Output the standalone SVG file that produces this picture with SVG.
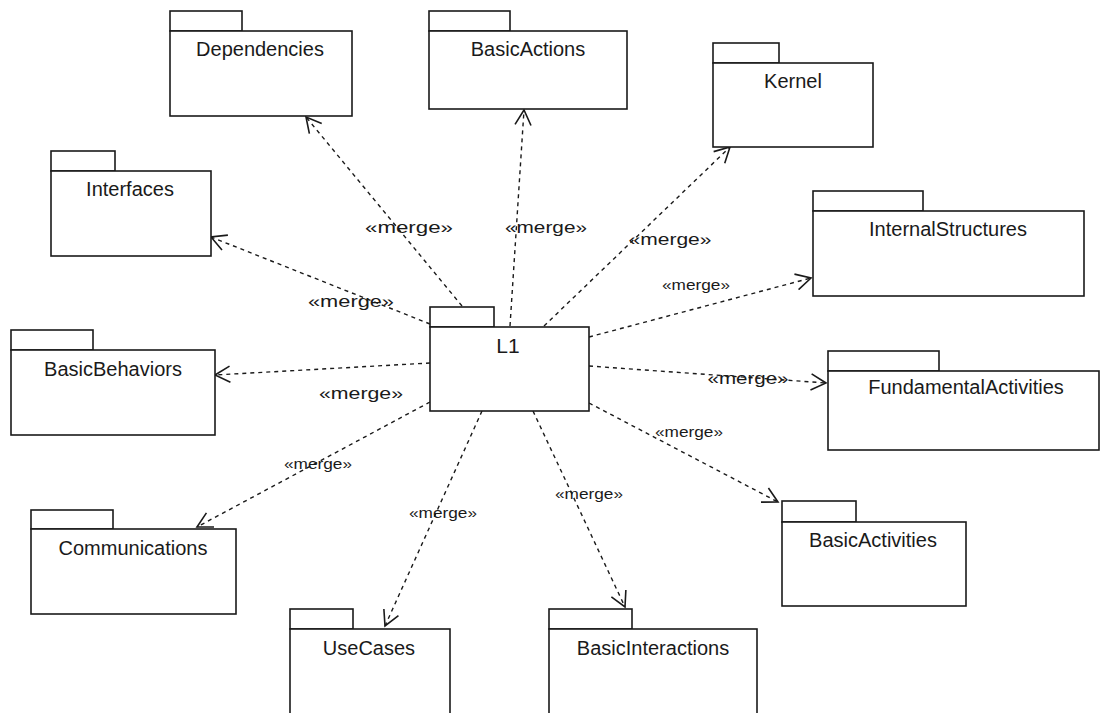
<svg xmlns="http://www.w3.org/2000/svg" width="1101" height="713" viewBox="0 0 1101 713">
<style>
.pk{fill:#fff;stroke:#1a1a1a;stroke-width:1.6}
.nm{font-family:"Liberation Sans",Arial,sans-serif;font-size:20px;fill:#1a1a1a;text-anchor:middle}
.cn{fill:none;stroke:#1a1a1a;stroke-width:1.4;stroke-dasharray:4 4;marker-end:url(#arr)}
.lg{font-family:"Liberation Sans",Arial,sans-serif;font-size:17px;fill:#1a1a1a;text-anchor:middle}
.sm{font-family:"Liberation Sans",Arial,sans-serif;font-size:14px;fill:#1a1a1a;text-anchor:middle}
</style>
<defs>
<marker id="arr" markerUnits="userSpaceOnUse" viewBox="0 0 18 18" markerWidth="18" markerHeight="18" refX="16" refY="9" orient="auto">
<path d="M1,1 L16,9 L1,17" fill="none" stroke="#1a1a1a" stroke-width="1.6"/>
</marker>
</defs>
<rect width="1101" height="713" fill="#fff"/>

<g id="connectors">
<line class="cn" x1="462" y1="306" x2="306" y2="117"/>
<line class="cn" x1="510" y1="326" x2="524" y2="110"/>
<line class="cn" x1="544" y1="326" x2="730" y2="147"/>
<line class="cn" x1="589" y1="337" x2="811" y2="278"/>
<line class="cn" x1="589" y1="366" x2="826" y2="383"/>
<line class="cn" x1="589" y1="403" x2="778" y2="502"/>
<line class="cn" x1="533" y1="411" x2="625" y2="607"/>
<line class="cn" x1="482" y1="411" x2="385" y2="626"/>
<line class="cn" x1="430" y1="402" x2="197" y2="527"/>
<line class="cn" x1="430" y1="363" x2="215" y2="375"/>
<line class="cn" x1="430" y1="324" x2="211" y2="237"/>
</g>

<g id="labels">
<text class="lg" x="409" y="233" textLength="88" lengthAdjust="spacingAndGlyphs">«merge»</text>
<text class="lg" x="546" y="233" textLength="82" lengthAdjust="spacingAndGlyphs">«merge»</text>
<text class="lg" x="670" y="245" textLength="83" lengthAdjust="spacingAndGlyphs">«merge»</text>
<text class="lg" x="351" y="307" textLength="86" lengthAdjust="spacingAndGlyphs">«merge»</text>
<text class="lg" x="361" y="399" textLength="84" lengthAdjust="spacingAndGlyphs">«merge»</text>
<text class="lg" x="748" y="384" textLength="81" lengthAdjust="spacingAndGlyphs">«merge»</text>
<text class="sm" x="696" y="290" textLength="68" lengthAdjust="spacingAndGlyphs">«merge»</text>
<text class="sm" x="689" y="437" textLength="68" lengthAdjust="spacingAndGlyphs">«merge»</text>
<text class="sm" x="318" y="469" textLength="68" lengthAdjust="spacingAndGlyphs">«merge»</text>
<text class="sm" x="443" y="518" textLength="68" lengthAdjust="spacingAndGlyphs">«merge»</text>
<text class="sm" x="589" y="499" textLength="68" lengthAdjust="spacingAndGlyphs">«merge»</text>
</g>

<g id="L1">
<rect class="pk" x="430" y="307" width="64" height="20"/>
<rect class="pk" x="430" y="327" width="159" height="84"/>
<text class="nm" x="508" y="353" style="font-size:21px">L1</text>
</g>
<g id="Dependencies">
<rect class="pk" x="170" y="11" width="72" height="20"/>
<rect class="pk" x="170" y="31" width="182" height="85"/>
<text class="nm" x="260" y="56">Dependencies</text>
</g>
<g id="BasicActions">
<rect class="pk" x="429" y="11" width="81" height="20"/>
<rect class="pk" x="429" y="31" width="198" height="78"/>
<text class="nm" x="528" y="56">BasicActions</text>
</g>
<g id="Kernel">
<rect class="pk" x="713" y="43" width="66" height="20"/>
<rect class="pk" x="713" y="63" width="160" height="84"/>
<text class="nm" x="793" y="88">Kernel</text>
</g>
<g id="Interfaces">
<rect class="pk" x="51" y="151" width="64" height="20"/>
<rect class="pk" x="51" y="171" width="160" height="85"/>
<text class="nm" x="130" y="196">Interfaces</text>
</g>
<g id="InternalStructures">
<rect class="pk" x="813" y="191" width="110" height="20"/>
<rect class="pk" x="813" y="211" width="271" height="85"/>
<text class="nm" x="948" y="236">InternalStructures</text>
</g>
<g id="BasicBehaviors">
<rect class="pk" x="11" y="330" width="82" height="20"/>
<rect class="pk" x="11" y="350" width="204" height="85"/>
<text class="nm" x="113" y="376">BasicBehaviors</text>
</g>
<g id="FundamentalActivities">
<rect class="pk" x="828" y="351" width="111" height="20"/>
<rect class="pk" x="828" y="371" width="271" height="79"/>
<text class="nm" x="966" y="394">FundamentalActivities</text>
</g>
<g id="Communications">
<rect class="pk" x="31" y="510" width="82" height="19"/>
<rect class="pk" x="31" y="529" width="205" height="85"/>
<text class="nm" x="133" y="555">Communications</text>
</g>
<g id="BasicActivities">
<rect class="pk" x="782" y="501" width="74" height="21"/>
<rect class="pk" x="782" y="522" width="184" height="84"/>
<text class="nm" x="873" y="547">BasicActivities</text>
</g>
<g id="UseCases">
<rect class="pk" x="290" y="609" width="63" height="20"/>
<rect class="pk" x="290" y="629" width="160" height="95"/>
<text class="nm" x="369" y="655">UseCases</text>
</g>
<g id="BasicInteractions">
<rect class="pk" x="549" y="609" width="83" height="20"/>
<rect class="pk" x="549" y="629" width="208" height="95"/>
<text class="nm" x="653" y="655">BasicInteractions</text>
</g>
</svg>
